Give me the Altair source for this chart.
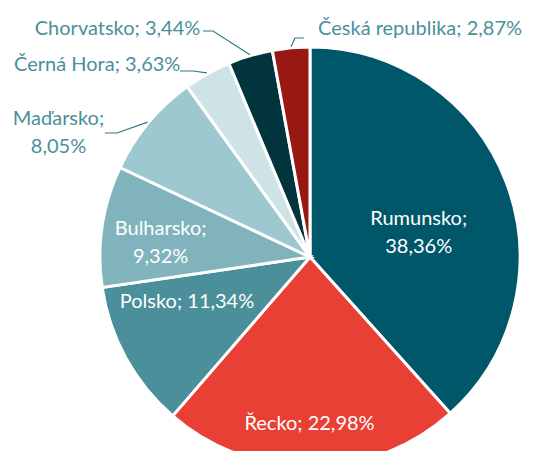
import altair as alt
import pandas as pd
import numpy as np

# ---- data ----
countries = ["Rumunsko", "Řecko", "Polsko", "Bulharsko", "Maďarsko",
             "Černá Hora", "Chorvatsko", "Česká republika"]
shares = [38.36, 22.98, 11.34, 9.32, 8.05, 3.63, 3.44, 2.87]
labels = ["Rumunsko;\n38,36%", "Řecko; 22,98%", "Polsko; 11,34%", "Bulharsko;\n9,32%",
          "Maďarsko;\n8,05%", "Černá Hora; 3,63%", "Chorvatsko; 3,44%",
          "Česká republika; 2,87%"]
colors = ["#00576A", "#E84035", "#4A8F99", "#80B3BC", "#9DC8D0",
          "#CDE3E6", "#02343D", "#981914"]

# ---- layout ----
W, H = 520, 443
CX, CY, R = 302, 249, 210
FONT = "Lato"
FS = 20
TEAL_TEXT = "#4A9099"
LEADER = "#2F7A84"

# label placement: radius, dx, dy, align, colour
label_layout = {
    "Rumunsko": (110, 6, 1, "center", "white"),
    "Řecko": (166, -2, 1, "center", "white"),
    "Polsko": (130, -9, -18, "center", "white"),
    "Bulharsko": (150, -1, -6, "center", "white"),
    "Maďarsko": (210, -90, -4, "center", TEAL_TEXT),
    "Černá Hora": (210, -27, -9, "right", TEAL_TEXT),
    "Chorvatsko": (210, -50, -27, "right", TEAL_TEXT),
    "Česká republika": (210, 27, -19, "left", TEAL_TEXT),
}
# leader lines: two points relative to centre, third point on the slice edge
leader_layout = {
    "Maďarsko": [(-205, -124), (-193, -124)],
    "Černá Hora": [(-130, -186), (-117, -186)],
    "Chorvatsko": [(-107, -226), (-97, -226)],
    "Česká republika": [(-6, -219), (-15, -219)],
}

df = pd.DataFrame({"country": countries, "share": shares, "label": labels,
                   "idx": range(len(countries))})
total = float(sum(shares))
df["end"] = df["share"].cumsum()
df["start"] = df["end"] - df["share"]
df["mid"] = (df["start"] + df["end"]) / 2

theta_scale = alt.Scale(domain=[0, total], range=[0, 2 * np.pi], zero=True, nice=False)

rows = []
for c, pts in leader_layout.items():
    mid = float(df.loc[df.country == c, "mid"].iloc[0])
    ang = 2 * np.pi * mid / total
    for i, (px, py) in enumerate(pts):
        rows.append({"country": c, "seq": i, "x": CX + px, "y": CY + py})
    rows.append({"country": c, "seq": 2, "x": CX + (R + 1) * np.sin(ang),
                 "y": CY - (R + 1) * np.cos(ang)})
leaders = pd.DataFrame(rows)

arcs = alt.Chart(df).mark_arc(radius=R, stroke="white", strokeWidth=3).encode(
    theta=alt.Theta("share:Q", stack=True, scale=theta_scale),
    color=alt.Color("country:N", scale=alt.Scale(domain=countries, range=colors), legend=None),
    order=alt.Order("idx:Q"),
    x=alt.value(CX),
    y=alt.value(CY),
)

lines = alt.Chart(leaders).mark_line(color=LEADER, strokeWidth=1.2).encode(
    x=alt.X("x:Q", scale=None, axis=None),
    y=alt.Y("y:Q", scale=None, axis=None),
    detail="country:N",
    order="seq:Q",
)

texts = []
for c in countries:
    r, dx, dy, align, col = label_layout[c]
    texts.append(
        alt.Chart(df).transform_filter(alt.datum.country == c).mark_text(
            radius=r, dx=dx, dy=dy, align=align, baseline="middle",
            lineBreak="\n", lineHeight=28, font=FONT, fontSize=FS, color=col,
        ).encode(
            theta=alt.Theta("mid:Q", stack=False, scale=theta_scale),
            text="label:N",
            x=alt.value(CX),
            y=alt.value(CY),
        )
    )

chart = alt.layer(arcs, lines, *texts).properties(
    width=W, height=H, padding=0,
    autosize=alt.AutoSizeParams(type="none"),
).configure_view(stroke=None)

chart.save("out.html", embed_options={"renderer": "svg", "actions": False})
